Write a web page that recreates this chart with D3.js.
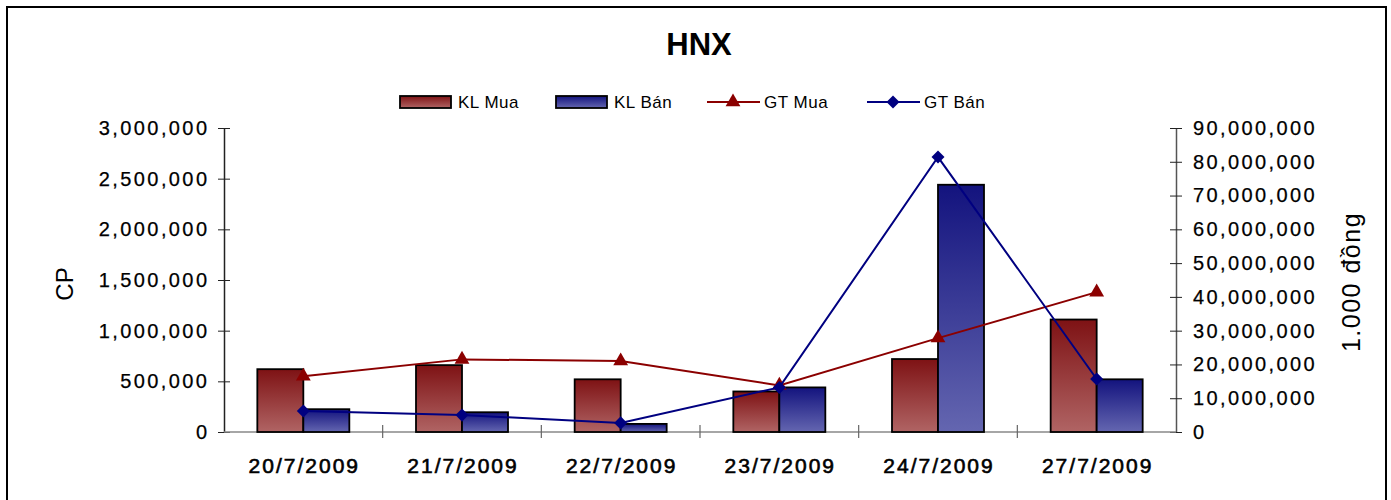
<!DOCTYPE html>
<html>
<head>
<meta charset="utf-8">
<script src="https://cdn.jsdelivr.net/npm/d3@7"></script>
<style>
  body { margin: 0; background: #fff; }
  svg text { font-family: "Liberation Sans", Arial, sans-serif; fill: #000; }
</style>
</head>
<body>
<div id="chart"></div>
<script>
// data
var dates = ["20/7/2009", "21/7/2009", "22/7/2009", "23/7/2009", "24/7/2009", "27/7/2009"];
var klMua = [620000, 660000, 520000, 400000, 720000, 1110000];
var klBan = [225000, 195000, 80000, 440000, 2440000, 520000];
var gtMua = [16500000, 21500000, 21000000, 13800000, 27800000, 41400000];
var gtBan = [6200000, 5000000, 2700000, 13200000, 81400000, 15700000];
var leftTicks = [0, 500000, 1000000, 1500000, 2000000, 2500000, 3000000];
var rightTicks = [0, 10000000, 20000000, 30000000, 40000000, 50000000, 60000000, 70000000, 80000000, 90000000];
var seriesNames = ["KL Mua", "KL Bán", "GT Mua", "GT Bán"];

var w = 1391, h = 500;
var plotLeft = 224, plotRight = 1176, plotTop = 128, plotBottom = 432;

var svg = d3.select("#chart").append("svg")
  .attr("width", w)
  .attr("height", h);

var defs = svg.append("defs");
function grad(id, c1, c2) {
  var g = defs.append("linearGradient").attr("id", id)
    .attr("x1", 0).attr("y1", 0).attr("x2", 0).attr("y2", 1);
  g.append("stop").attr("offset", "0%").attr("stop-color", c1);
  g.append("stop").attr("offset", "100%").attr("stop-color", c2);
}
grad("gRed", "#7e1214", "#b06464");
grad("gBlue", "#13137e", "#6466b0");

// outer frame
svg.append("rect")
  .attr("x", 7).attr("y", 7)
  .attr("width", 1379).attr("height", 520)
  .attr("fill", "none")
  .attr("stroke", "#000")
  .attr("stroke-width", 2);

// scales
var x = d3.scaleBand().domain(dates).range([plotLeft, plotRight]);
var xIn = d3.scaleBand().domain([0, 1]).range([x.bandwidth() / 2 - 46, x.bandwidth() / 2 + 46]);
var yL = d3.scaleLinear().domain([0, 3000000]).range([plotBottom, plotTop]);
var yR = d3.scaleLinear().domain([0, 90000000]).range([plotBottom, plotTop]);

// title
svg.append("text")
  .attr("x", 699).attr("y", 55)
  .attr("text-anchor", "middle")
  .style("font-size", "31px")
  .style("font-weight", "bold")
  .text("HNX");

// axes
var fmt = d3.format(",");
var axL = svg.append("g")
  .attr("transform", "translate(" + plotLeft + ",0)")
  .call(d3.axisLeft(yL).tickValues(leftTicks).tickFormat(fmt).tickSizeInner(6).tickSizeOuter(0).tickPadding(11));
var axR = svg.append("g")
  .attr("transform", "translate(" + plotRight + ",0)")
  .call(d3.axisRight(yR).tickValues(rightTicks).tickFormat(fmt).tickSizeInner(6).tickSizeOuter(0).tickPadding(11));
[axL, axR].forEach(function(a) {
  a.select(".domain").attr("stroke", a === axL ? "#222" : "#555").attr("stroke-width", 1.5);
  a.selectAll(".tick line").attr("stroke", "#222").attr("x1", a === axL ? 6 : -6);
  a.selectAll(".tick text")
    .style("font-size", "20px")
    .style("letter-spacing", "2.4px")
    .attr("fill", "#000")
    .attr("stroke", "#000")
    .attr("stroke-width", 0.25);
});
axL.selectAll(".tick text").attr("dx", "2.4px");

// x axis
var axX = svg.append("g")
  .attr("transform", "translate(0," + plotBottom + ")");
axX.append("line")
  .attr("x1", plotLeft).attr("x2", plotRight)
  .attr("stroke", "#888").attr("stroke-width", 1.5);
axX.selectAll(".sep")
  .data(dates.slice(1))
  .enter().append("line")
  .attr("x1", function(d) { return x(d); })
  .attr("x2", function(d) { return x(d); })
  .attr("y1", -7).attr("y2", 6)
  .attr("stroke", "#666").attr("stroke-width", 1.2);
axX.selectAll(".lab")
  .data(dates)
  .enter().append("text")
  .attr("x", function(d) { return x(d) + x.bandwidth() / 2 + 1; })
  .attr("y", 41)
  .attr("text-anchor", "middle")
  .style("font-size", "21px")
  .style("letter-spacing", "2px")
  .attr("stroke", "#000")
  .attr("stroke-width", 0.6)
  .text(function(d) { return d; });

// axis titles
svg.append("text")
  .attr("transform", "translate(73,284) rotate(-90)")
  .attr("text-anchor", "middle")
  .style("font-size", "24px")
  .text("CP");
svg.append("text")
  .attr("transform", "translate(1360,282) rotate(-90)")
  .attr("text-anchor", "middle")
  .style("font-size", "25px")
  .style("letter-spacing", "1.5px")
  .text("1.000 đồng");

// bars
var groups = svg.selectAll(".grp")
  .data(dates)
  .enter().append("g")
  .attr("transform", function(d) { return "translate(" + x(d) + ",0)"; });
groups.append("rect")
  .attr("x", xIn(0))
  .attr("y", function(d, i) { return yL(klMua[i]); })
  .attr("width", xIn.bandwidth())
  .attr("height", function(d, i) { return plotBottom - yL(klMua[i]); })
  .attr("fill", "url(#gRed)")
  .attr("stroke", "#000").attr("stroke-width", 1.8);
groups.append("rect")
  .attr("x", xIn(1))
  .attr("y", function(d, i) { return yL(klBan[i]); })
  .attr("width", xIn.bandwidth())
  .attr("height", function(d, i) { return plotBottom - yL(klBan[i]); })
  .attr("fill", "url(#gBlue)")
  .attr("stroke", "#000").attr("stroke-width", 1.8);

// lines
var cx = function(d, i) { return x(dates[i]) + x.bandwidth() / 2; };
var triangle = d3.symbol().type(d3.symbolTriangle).size(95);
var diamond = d3.symbol().type(d3.symbolSquare).size(85);

function drawLine(vals, color, sym, rot) {
  svg.append("path")
    .datum(vals)
    .attr("fill", "none")
    .attr("stroke", color)
    .attr("stroke-width", 2)
    .attr("d", d3.line().x(cx).y(function(d) { return yR(d); }));
  svg.selectAll(null)
    .data(vals)
    .enter().append("path")
    .attr("d", sym)
    .attr("fill", color)
    .attr("transform", function(d, i) {
      return "translate(" + cx(d, i) + "," + yR(d) + ") rotate(" + rot + ")";
    });
}
drawLine(gtMua, "#8b0000", triangle, 0);
drawLine(gtBan, "#000080", diamond, 45);

// legend
var legend = svg.append("g").attr("transform", "translate(0,102)");
var lx = [400, 556, 707, 867];
seriesNames.forEach(function(name, i) {
  var g = legend.append("g").attr("transform", "translate(" + lx[i] + ",0)");
  if (i < 2) {
    g.append("rect")
      .attr("x", 0).attr("y", -6)
      .attr("width", 51).attr("height", 12)
      .attr("fill", i === 0 ? "url(#gRed)" : "url(#gBlue)")
      .attr("stroke", "#000").attr("stroke-width", 1.8);
  } else {
    var col = i === 2 ? "#8b0000" : "#000080";
    g.append("line").attr("x1", 0).attr("x2", 53)
      .attr("stroke", col).attr("stroke-width", 2);
    g.append("path")
      .attr("d", i === 2 ? triangle : diamond)
      .attr("fill", col)
      .attr("transform", "translate(26,0) rotate(" + (i === 2 ? 0 : 45) + ")");
  }
  g.append("text")
    .attr("x", i < 2 ? 58 : 57).attr("y", 6)
    .style("font-size", "17px")
    .style("letter-spacing", "0.5px")
    .text(name);
});
</script>
</body>
</html>
